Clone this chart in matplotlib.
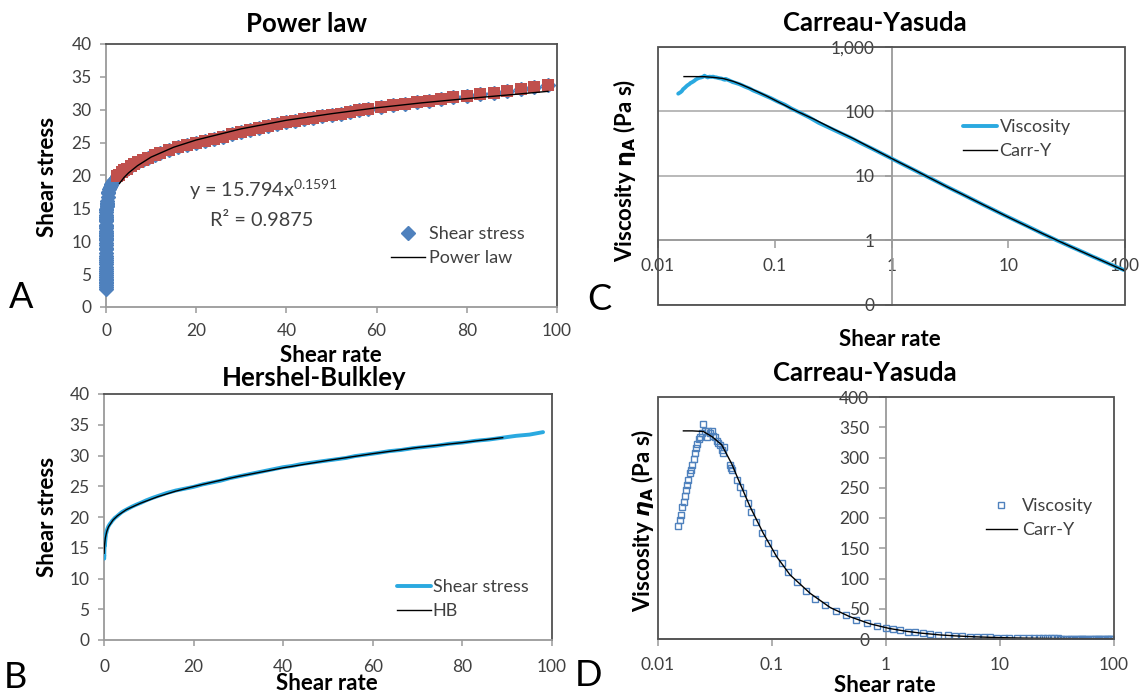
import matplotlib
matplotlib.use('Agg')
import matplotlib.pyplot as plt
from matplotlib.patches import Rectangle
from matplotlib.ticker import FixedLocator, FuncFormatter, NullLocator

plt.rcParams['font.family'] = ['Lato', 'DejaVu Sans']
plt.rcParams['mathtext.fontset'] = 'dejavusans'

# ---------------- data ----------------
shear_rate = [0.0149, 0.0156, 0.0160, 0.0164, 0.0168, 0.0172, 0.0176, 0.0180, 0.0185, 0.0190,
              0.0195, 0.0200, 0.0205, 0.0210, 0.0215, 0.0220, 0.0227, 0.0234, 0.0242, 0.0250,
              0.0258, 0.0267, 0.0276, 0.0286, 0.0297, 0.0306, 0.0316, 0.0327, 0.0338, 0.0350,
              0.0362, 0.0375, 0.0380, 0.0428, 0.0437, 0.0449, 0.0497, 0.0525, 0.0553, 0.0612,
              0.0652, 0.0725, 0.0823, 0.0929, 0.105, 0.122, 0.139, 0.166, 0.198, 0.238,
              0.289, 0.364, 0.443, 0.546, 0.676, 0.828, 1.0, 1.16, 1.34, 1.57,
              1.80, 2.11, 2.42, 2.87, 3.5, 4.0, 4.6, 5.5, 6.3, 7.2,
              8.2, 9.4, 10.8, 12, 14, 16, 18, 20, 22, 24,
              26, 28, 30, 32, 34, 36, 38, 40, 42, 44,
              46, 48, 50, 52, 54, 56, 58, 61, 63.6, 66.3,
              69, 71.7, 74.3, 77, 80, 83, 86, 89, 92, 95, 98]

shear_stress = [2.79, 3.07, 3.28, 3.59, 3.81, 4.06, 4.33, 4.57, 4.85, 5.21,
                5.46, 5.76, 6.09, 6.47, 6.79, 7.11, 7.49, 7.82, 8.23, 8.88,
                8.85, 8.92, 9.47, 9.72, 10.19, 10.28, 10.55, 10.73, 10.95, 11.24,
                11.29, 11.51, 12.05, 12.33, 12.32, 12.53, 13.07, 13.23, 13.33, 13.71,
                13.69, 14.06, 14.40, 14.77, 14.91, 15.37, 15.29, 15.60, 15.84, 15.71,
                16.18, 16.74, 17.28, 17.47, 17.91, 18.22, 18.5, 18.7, 18.9, 19.1,
                19.35, 19.6, 19.85, 20.1, 20.5, 20.8, 21.05, 21.4, 21.7, 22.0,
                22.3, 22.7, 23.1, 23.4, 23.9, 24.3, 24.6, 24.9, 25.3, 25.6,
                25.9, 26.3, 26.6, 26.9, 27.2, 27.5, 27.8, 28.1, 28.3, 28.6,
                28.8, 29.0, 29.2, 29.4, 29.6, 29.9, 30.1, 30.4, 30.7, 30.9,
                31.2, 31.4, 31.6, 31.9, 32.1, 32.4, 32.6, 32.9, 33.2, 33.4, 33.8]

viscosity = [187, 197, 205, 219, 227, 236, 246, 254, 262, 274,
             280, 288, 297, 308, 316, 323, 330, 334, 340, 355,
             343, 334, 343, 340, 343, 336, 334, 328, 324, 321,
             312, 307, 317, 288, 282, 279, 263, 252, 241, 224,
             210, 194, 175, 159, 142, 126, 110, 94, 80, 66,
             56, 46, 39, 32, 26.5, 22, 18.5, 16.1, 14.1, 12.2,
             10.75, 9.3, 8.2, 7.0, 5.85, 5.2, 4.58, 3.89, 3.44, 3.06,
             2.72, 2.41, 2.14, 1.95, 1.71, 1.52, 1.37, 1.245, 1.15, 1.067,
             0.996, 0.939, 0.887, 0.841, 0.80, 0.764, 0.732, 0.703, 0.674, 0.65,
             0.626, 0.604, 0.584, 0.565, 0.548, 0.534, 0.519, 0.498, 0.483, 0.466,
             0.452, 0.438, 0.425, 0.414, 0.401, 0.39, 0.379, 0.37, 0.361, 0.352, 0.345]

# power-law trend line (panel A)
pl_rate = [3, 4, 5, 7, 10, 15, 20, 30, 40, 50, 60, 70, 80, 90, 98]
pl_stress = [18.8, 19.7, 20.4, 21.5, 22.8, 24.3, 25.4, 27.1, 28.4, 29.4, 30.3, 31.05, 31.7, 32.3, 32.8]

# Herschel-Bulkley fit (panel B)
hb_rate = [0.02, 0.1, 0.3, 0.6, 1, 2, 3, 5, 8, 12, 16, 20, 25, 30, 40, 50, 60, 70, 80, 89]
hb_stress = [14.1, 15.3, 16.6, 17.6, 18.4, 19.5, 20.2, 21.2, 22.2, 23.3, 24.2, 24.95, 25.8, 26.6,
             28.0, 29.2, 30.3, 31.3, 32.1, 32.9]

# Carreau-Yasuda fit (panels C, D)
cy_rate = [0.0167, 0.020, 0.025, 0.030, 0.0362, 0.0442, 0.0524, 0.0641, 0.0837, 0.110,
           0.144, 0.216, 0.324, 0.48, 0.72, 1.07, 1.5, 2.0, 3.0, 4.0,
           6.0, 10, 15, 20, 30, 40, 60, 80, 98]
cy_visc = [344, 344, 343, 334, 321, 290, 257, 219, 175, 136,
           106, 75.5, 52, 37, 25.2, 17.4, 12.8, 9.8, 6.7, 5.2,
           3.6, 2.28, 1.6, 1.25, 0.89, 0.70, 0.505, 0.40, 0.34]

x_ticks_lin = [0, 20, 40, 60, 80, 100]
y_ticks_stress = [0, 5, 10, 15, 20, 25, 30, 35, 40]
x_ticks_log = [0.01, 0.1, 1, 10, 100]
x_tick_labels_log = ['0.01', '0.1', '1', '10', '100']
y_ticks_logvisc = [0.1, 1, 10, 100, 1000]
y_tick_labels_logvisc = ['0', '1', '10', '100', '1,000']
y_ticks_visc = [0, 50, 100, 150, 200, 250, 300, 350, 400]

# ---------------- style ----------------
BLUE = '#4F81BD'
RED = '#C0504D'
LBLUE = '#2AA9E0'
FRAME = '#505050'
AXIS = '#9A9A9A'
TXT = '#404040'
TICK_FS = 12.5
TITLE_FS = 18.5
LAB_FS = 16
LEG_FS = 13
LET_FS = 26

W, H = 1140, 699
fig = plt.figure(figsize=(W / 100, H / 100), dpi=100)


def fx(x):
    return x / W


def fy(y):
    return 1 - y / H


def rect(l, t, r, b):
    return [l / W, 1 - b / H, (r - l) / W, (b - t) / H]


def style_lin(ax):
    for s in ['top', 'right']:
        ax.spines[s].set_color(FRAME)
        ax.spines[s].set_linewidth(1.3)
    for s in ['left', 'bottom']:
        ax.spines[s].set_color(AXIS)
        ax.spines[s].set_linewidth(1.3)
    ax.tick_params(axis='both', direction='out', length=4.5, width=1.1, color=AXIS,
                   labelsize=TICK_FS, labelcolor=TXT)
    ax.tick_params(axis='y', pad=6)
    ax.tick_params(axis='x', pad=7)


def frame(ax):
    ax.add_patch(Rectangle((0, 0), 1, 1, transform=ax.transAxes, fill=False,
                           ec=FRAME, lw=1.3, clip_on=False, zorder=6))


# ---------------- Panel A ----------------
axA = fig.add_axes(rect(106, 44, 557, 307))
red_rate = [r for r in shear_rate if r >= 2.4]
red_stress = [s for r, s in zip(shear_rate, shear_stress) if r >= 2.4]
axA.plot(shear_rate, shear_stress, ls='none', marker='D', ms=7.5, color=BLUE,
         label='Shear stress', clip_on=False, zorder=3)
axA.plot(red_rate, red_stress, ls='none', marker='s', ms=8.5, color=RED, mew=0,
         label='_nolegend_', clip_on=False, zorder=4)
axA.plot(pl_rate, pl_stress, color='black', lw=1.0, label='Power law', zorder=5)
axA.set_xlim(0, 100)
axA.set_ylim(0, 40)
axA.set_xticks(x_ticks_lin)
axA.set_yticks(y_ticks_stress)
style_lin(axA)
axA.text(0.183, 0.447, r'y = 15.794x$^{\mathregular{0.1591}}$', transform=axA.transAxes,
         fontsize=14.3, color=TXT, va='center')
axA.text(0.23, 0.327, 'R² = 0.9875', transform=axA.transAxes, fontsize=14.3, color=TXT,
         va='center')
axA.legend(loc='center left', bbox_to_anchor=(fx(391), fy(246)), bbox_transform=fig.transFigure,
           frameon=False, borderpad=0, borderaxespad=0, handlelength=1.9, handletextpad=0.2,
           labelspacing=0.45, fontsize=LEG_FS, numpoints=1, labelcolor=TXT)

# ---------------- Panel B ----------------
axB = fig.add_axes(rect(104, 394, 552, 640))
b_rate = [r for r in shear_rate if r >= 0.05]
b_stress = [s for r, s in zip(shear_rate, shear_stress) if r >= 0.05]
axB.plot(b_rate, b_stress, color=LBLUE, lw=2.8, label='Shear stress', zorder=3,
         solid_capstyle='round')
axB.plot(hb_rate, hb_stress, color='black', lw=1.0, label='HB', zorder=4)
axB.set_xlim(0, 100)
axB.set_ylim(0, 40)
axB.set_xticks(x_ticks_lin)
axB.set_yticks(y_ticks_stress)
style_lin(axB)
axB.tick_params(axis='x', pad=9)
axB.legend(loc='center left', bbox_to_anchor=(fx(397), fy(599)), bbox_transform=fig.transFigure,
           frameon=False, borderpad=0, borderaxespad=0, handlelength=1.9, handletextpad=0.08,
           labelspacing=0.45, fontsize=LEG_FS, labelcolor=TXT)

# ---------------- Panel C ----------------
axC = fig.add_axes(rect(658, 46.7, 1125, 304.7))
axC.set_xscale('log')
axC.set_yscale('log')
axC.plot(shear_rate, viscosity, color=LBLUE, lw=2.8, label='Viscosity', zorder=3,
         solid_capstyle='round')
axC.plot(cy_rate, cy_visc, color='black', lw=1.0, label='Carr-Y', zorder=4)
axC.set_xlim(0.01, 100)
axC.set_ylim(0.1, 1000)
for s in ['top', 'right']:
    axC.spines[s].set_visible(False)
axC.spines['left'].set_position(('data', 1))
axC.spines['bottom'].set_position(('data', 1))
for s in ['left', 'bottom']:
    axC.spines[s].set_color(AXIS)
    axC.spines[s].set_linewidth(1.3)
frame(axC)
axC.xaxis.set_major_locator(FixedLocator(x_ticks_log))
axC.xaxis.set_minor_locator(NullLocator())
axC.yaxis.set_major_locator(FixedLocator(y_ticks_logvisc))
axC.yaxis.set_minor_locator(NullLocator())
axC.xaxis.set_major_formatter(FuncFormatter(lambda v, p: x_tick_labels_log[x_ticks_log.index(v)]
                                            if v in x_ticks_log else ''))
axC.yaxis.set_major_formatter(FuncFormatter(
    lambda v, p: y_tick_labels_logvisc[[abs(v - t) < 1e-9 * t for t in y_ticks_logvisc].index(True)]
    if any(abs(v - t) < 1e-9 * t for t in y_ticks_logvisc) else ''))
axC.grid(axis='y', color='#A6A6A6', lw=1.1)
axC.set_axisbelow(True)
axC.tick_params(axis='both', direction='out', width=1.1, color=AXIS, labelsize=TICK_FS,
                labelcolor=TXT)
axC.tick_params(axis='x', length=6, pad=7)
axC.tick_params(axis='y', length=5, pad=7)
axC.legend(loc='center left', bbox_to_anchor=(fx(963), fy(139)), bbox_transform=fig.transFigure,
           frameon=False, borderpad=0, borderaxespad=0, handlelength=1.9, handletextpad=0.12,
           labelspacing=0.45, fontsize=LEG_FS, labelcolor=TXT)

# ---------------- Panel D ----------------
axD = fig.add_axes(rect(658, 397, 1114, 639))
axD.set_xscale('log')
axD.plot(shear_rate, viscosity, ls='none', marker='s', ms=4.3, mfc='none', mec=BLUE, mew=1.0,
         label='Viscosity', zorder=3)
axD.plot(cy_rate, cy_visc, color='black', lw=1.0, label='Carr-Y', zorder=4)
axD.set_xlim(0.01, 100)
axD.set_ylim(0, 400)
for s in ['top', 'right']:
    axD.spines[s].set_visible(False)
axD.spines['left'].set_position(('data', 1))
for s in ['left', 'bottom']:
    axD.spines[s].set_color(AXIS)
    axD.spines[s].set_linewidth(1.3)
frame(axD)
axD.xaxis.set_major_locator(FixedLocator(x_ticks_log))
axD.xaxis.set_minor_locator(NullLocator())
axD.xaxis.set_major_formatter(FuncFormatter(lambda v, p: x_tick_labels_log[x_ticks_log.index(v)]
                                            if v in x_ticks_log else ''))
axD.set_yticks(y_ticks_visc)
axD.tick_params(axis='both', direction='out', width=1.1, color=AXIS, labelsize=TICK_FS,
                labelcolor=TXT)
axD.tick_params(axis='x', length=5, pad=8)
axD.tick_params(axis='y', length=5, pad=7)
axD.legend(loc='center left', bbox_to_anchor=(fx(986), fy(518)), bbox_transform=fig.transFigure,
           frameon=False, borderpad=0, borderaxespad=0, handlelength=1.7, handletextpad=0.3,
           labelspacing=0.45, fontsize=LEG_FS, numpoints=1, labelcolor=TXT)

# ---------------- texts ----------------
bold = dict(fontweight='bold', color='black', ha='center', va='center')
fig.text(fx(306), fy(24), 'Power law', fontsize=TITLE_FS, **bold)
fig.text(fx(314.5), fy(378), 'Hershel-Bulkley', fontsize=TITLE_FS, **bold)
fig.text(fx(875), fy(23), 'Carreau-Yasuda', fontsize=TITLE_FS, **bold)
fig.text(fx(864.5), fy(373), 'Carreau-Yasuda', fontsize=TITLE_FS, **bold)

fig.text(fx(331), fy(355), 'Shear rate', fontsize=LAB_FS, **bold)
fig.text(fx(327), fy(684), 'Shear rate', fontsize=LAB_FS, **bold)
fig.text(fx(890), fy(340), 'Shear rate', fontsize=LAB_FS, **bold)
fig.text(fx(884.5), fy(685), 'Shear rate', fontsize=LAB_FS, **bold)

fig.text(fx(48), fy(177), 'Shear stress', fontsize=LAB_FS, rotation=90, **bold)
fig.text(fx(47), fy(517), 'Shear stress', fontsize=LAB_FS, rotation=90, **bold)
fig.text(fx(624.5), fy(170), r'Viscosity $\mathbf{\eta}_{\mathbf{A}}$ (Pa s)', fontsize=LAB_FS,
         rotation=90, **bold)
fig.text(fx(643), fy(520), r'Viscosity $\mathbfit{\eta}_{\mathbf{A}}$ (Pa s)', fontsize=LAB_FS,
         rotation=90, **bold)

letter = dict(fontsize=LET_FS, color='black', ha='center', va='center')
fig.text(fx(21), fy(298), 'A', **letter)
fig.text(fx(15), fy(678), 'B', **letter)
fig.text(fx(599), fy(300), 'C', **letter)
fig.text(fx(588), fy(675), 'D', **letter)

fig.savefig('out.png', dpi=100)
